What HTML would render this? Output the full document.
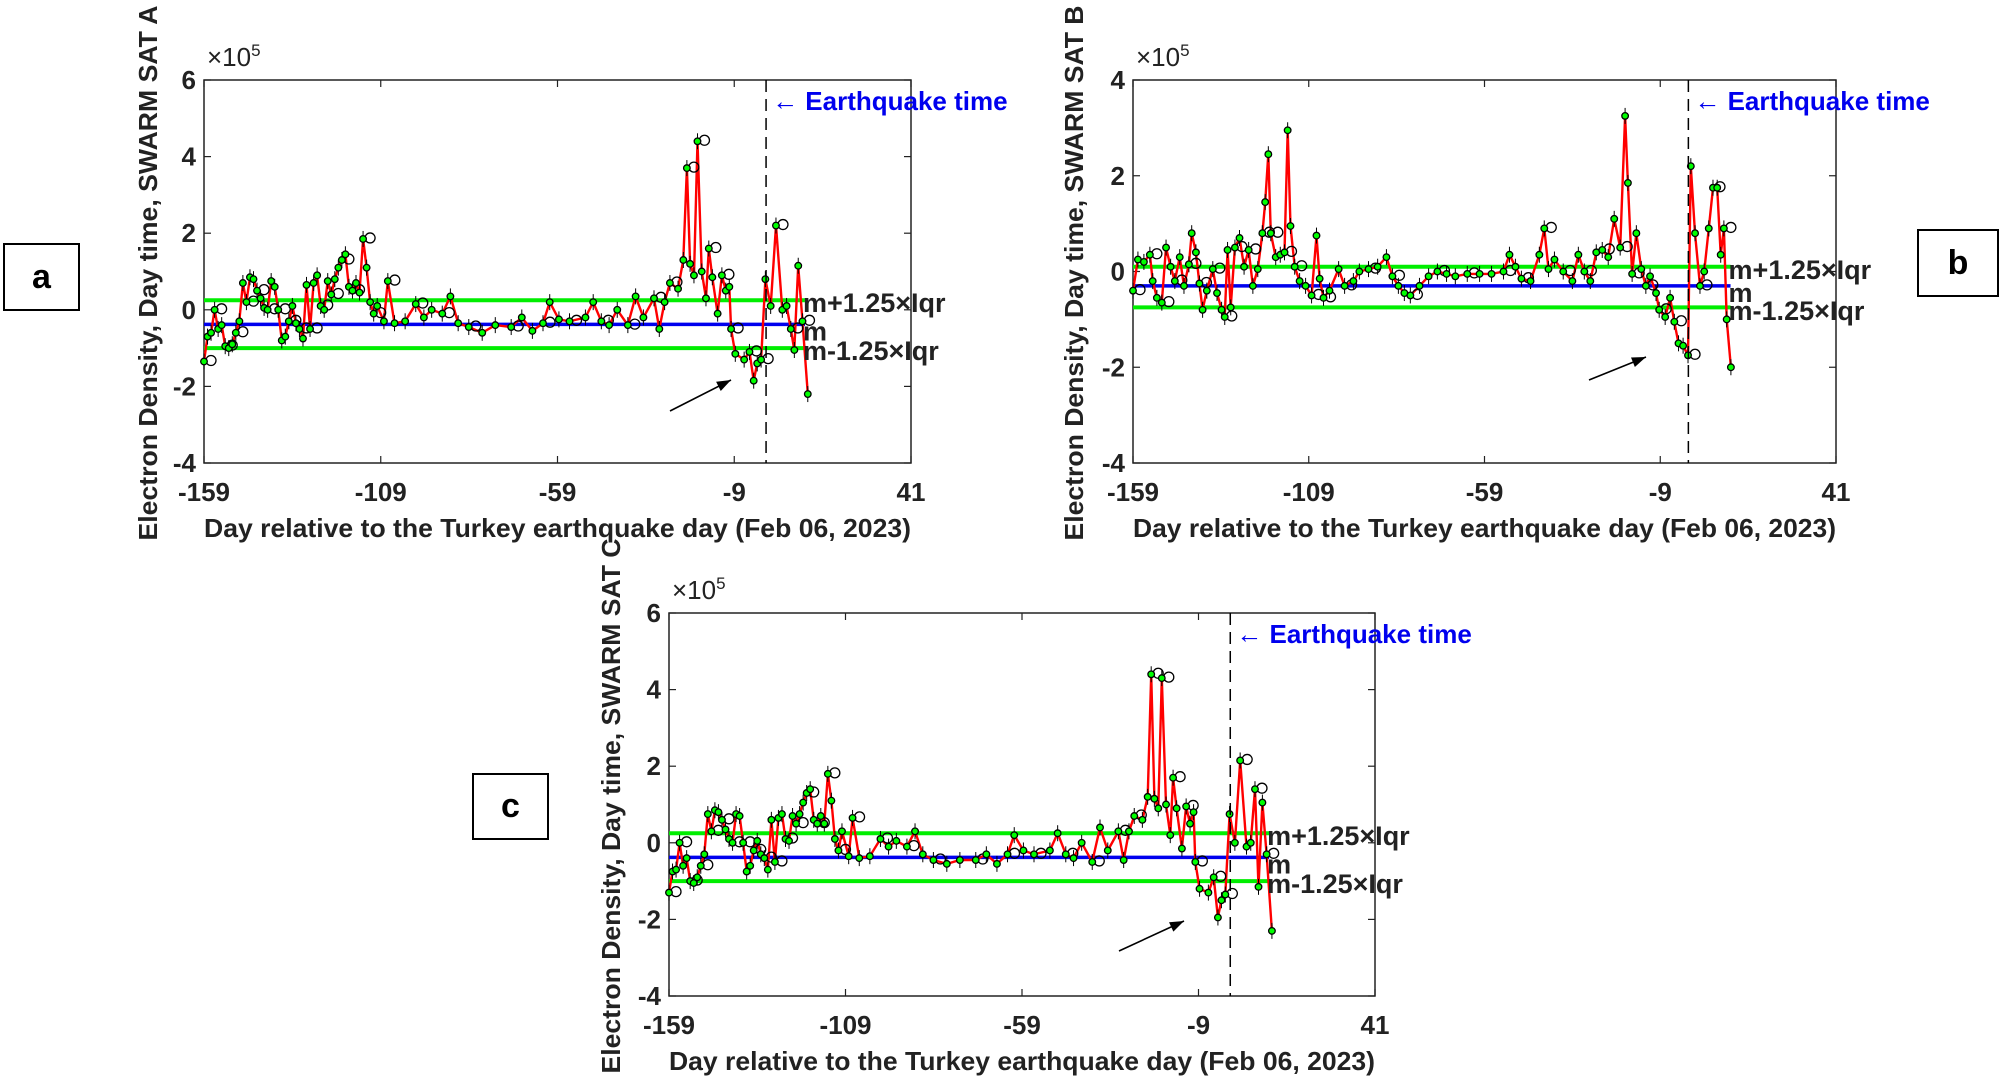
<!DOCTYPE html>
<html><head><meta charset="utf-8">
<style>
html,body{margin:0;padding:0;background:#fff;}
svg{display:block;font-family:"Liberation Sans",Arial,sans-serif;}
.box{position:absolute;border:2px solid #000;background:#fff;font:bold 34px "Liberation Sans",sans-serif;display:flex;align-items:center;justify-content:center;box-sizing:border-box;}
</style></head>
<body>
<div style="position:relative;width:2001px;height:1081px;overflow:hidden;">
<svg id="fig" width="2001" height="1081" viewBox="0 0 2001 1081"></svg>
<div class="box" style="left:3px;top:243px;width:77px;height:68px;">a</div>
<div class="box" style="left:1917px;top:229px;width:82px;height:68px;">b</div>
<div class="box" style="left:472px;top:773px;width:77px;height:67px;">c</div>
</div>
<script>
// ---- data (values ×1e5) ----
const aDays=[-159,-158,-157,-156,-155,-154,-153,-152,-151,-150,-149,-148,-147,-146,-145,-144,-143,-142,-141,-140,-139,-138,-137,-136,-135,-134,-133,-132,-131,-130,-129,-128,-127,-126,-125,-124,-123,-122,-121,-120,-119,-118,-117,-116,-115,-114,-113,-112,-111,-110,
-108.1,-107,-105.1,-102.1,-99.1,-96.8,-94.6,-91.6,-89.3,-87.1,-84.1,-80.3,-76.6,-72.1,-69.1,-66.1,-63.1,-61.2,-58.6,-55.6,-51.1,-48.9,-46.6,-44.4,-42.1,-39.1,-36.9,-34.7,-31.7,-30.2,-28.7,-27.2,-24.9,-23.4,-22.4,-21.5,-20.4,-19.4,-18.2,-17,-16.2,-15.2,-13.7,-12.5,-11.4,-10.4,-9.9,-8.7,-6.2,-4.7,-3.5,-2.5,-1.4,-0.2,1.3,2.8,4.6,5.8,7,8,9.1,10.3,11.8];
const aVals=[-1.35,-0.7,-0.6,0.0,-0.5,-0.4,-0.95,-1.0,-0.9,-0.6,-0.3,0.7,0.2,0.85,0.8,0.5,0.3,0.05,0.0,0.75,0.6,0.0,-0.8,-0.7,-0.3,0.1,-0.35,-0.5,-0.75,0.65,-0.5,0.7,0.9,0.1,0.0,0.75,0.4,0.8,1.1,1.3,1.45,0.6,0.5,0.7,0.45,1.85,1.1,0.2,-0.1,0.1,
-0.3,0.75,-0.35,-0.3,0.15,-0.2,0.0,-0.1,0.35,-0.35,-0.45,-0.6,-0.4,-0.45,-0.2,-0.55,-0.35,0.2,-0.25,-0.3,-0.2,0.2,-0.3,-0.4,0.0,-0.4,0.35,-0.2,0.3,-0.5,0.2,0.7,0.55,1.3,3.7,1.2,0.9,4.4,1.0,0.3,1.6,0.85,-0.1,0.9,0.5,0.6,-0.5,-1.15,-1.3,-1.1,-1.85,-1.4,-1.3,0.8,0.1,2.2,0.0,0.1,-0.5,-1.05,1.15,-0.3,-2.2];
const aLines=[0.25,-0.38,-1.0];

const bDays=[-159,-157.6,-155.9,-154.2,-153.4,-152.2,-150.8,-149.6,-148.3,-147.1,-145.7,-144.5,-143.1,-142.3,-141.1,-140.1,-139.2,-138,-136.3,-135.1,-133.8,-132.9,-132.1,-131.2,-130,-128.7,-127.4,-126.1,-124.9,-123.5,-122.2,-121.4,-120.5,-119.8,-118.4,-117.1,-115.9,-115,-114.2,-113,-111.6,-109.9,-108.2,-106.8,-105.9,-104.8,-103.1,-100.5,-98.8,-96.3,-94.6,-92,-89.4,-86.9,-85.2,-83.5,-81.8,-80.1,-77.5,-74.9,-72.4,-69.8,-67.3,-63.9,-60.4,-57,-53.6,-51.9,-50.2,-48.5,-45.9,-43.4,-42,-40.8,-39.1,-36.6,-34,-32.3,-30.6,-28.9,-27.2,-25.5,-23.8,-22.1,-20.4,-19,-18.2,-17,-15.8,-14.4,-13.1,-11.9,-10.2,-9.3,-7.6,-6.2,-5,-3.8,-2.5,-1.1,-0.3,0.9,2.3,3.5,4.8,6,7.2,8.2,9.1,9.9,11.1];
const bVals=[-0.4,0.25,0.2,0.35,-0.2,-0.55,-0.65,0.5,0.1,-0.2,0.3,-0.3,0.15,0.8,0.4,-0.25,-0.8,-0.4,0.05,-0.45,-0.8,-0.95,0.45,-0.75,0.5,0.7,0.1,0.45,-0.3,0.05,0.8,1.45,2.45,0.8,0.3,0.35,0.4,2.95,0.95,0.1,-0.2,-0.3,-0.5,0.75,-0.15,-0.55,-0.4,0.05,-0.3,-0.2,0.0,0.05,0.1,0.3,-0.1,-0.3,-0.45,-0.5,-0.3,-0.1,0.0,-0.05,-0.1,-0.05,-0.05,-0.05,0.0,0.35,0.1,-0.15,-0.2,0.35,0.9,0.05,0.25,0.0,-0.2,0.35,0.0,-0.2,0.4,0.45,0.3,1.1,0.5,3.25,1.85,-0.05,0.8,0.05,-0.3,-0.1,-0.45,-0.8,-0.95,-0.55,-1.05,-1.5,-1.55,-1.75,2.2,0.8,-0.3,0.0,0.9,1.75,1.75,0.35,0.9,-1.0,-2.0];
const bLines=[0.1,-0.3,-0.75];

const cDays=[-159,-158,-157,-156,-155,-154,-153,-152,-151,-150,-149,-148,-147,-146,-145,-144,-143,-142,-141,-140,-139,-138,-137,-136,-135,-134,-133,-132,-131,-130,-129,-128,-127,-126,-125,-124,-123,-122,-121,-120,-119,-118,-117,-116,-115,-114,-113,-112,-111,-110,
-108.1,-107,-105.1,-102.1,-99.1,-96.8,-94.6,-91.6,-89.3,-87.1,-84.1,-80.3,-76.6,-72.1,-69.1,-66.1,-63.1,-61.2,-58.6,-55.6,-51.1,-48.9,-46.6,-44.4,-42.1,-39.1,-36.9,-34.7,-31.7,-30.2,-28.7,-27.2,-24.9,-23.4,-22.4,-21.5,-20.4,-19.4,-18.2,-17,-16.2,-15.2,-13.7,-12.5,-11.4,-10.4,-9.9,-8.7,-6.2,-4.7,-3.5,-2.5,-1.4,-0.2,1.3,2.8,4.6,5.8,7,8,9.1,10.3,11.8];
const cVals=[-1.3,-0.75,-0.7,0.0,-0.6,-0.4,-1.0,-1.05,-0.9,-0.6,-0.3,0.75,0.3,0.85,0.8,0.6,0.35,0.1,0.0,0.75,0.7,0.0,-0.75,-0.6,-0.2,0.05,-0.3,-0.4,-0.7,0.6,-0.5,0.65,0.75,0.1,0.05,0.7,0.5,0.75,1.05,1.3,1.4,0.6,0.5,0.7,0.5,1.8,1.1,0.1,-0.2,0.3,
-0.35,0.65,-0.4,-0.35,0.1,-0.1,0.05,-0.1,0.3,-0.3,-0.45,-0.55,-0.45,-0.45,-0.3,-0.55,-0.3,0.2,-0.2,-0.3,-0.2,0.25,-0.3,-0.4,0.0,-0.5,0.4,-0.2,0.3,-0.45,0.3,0.7,0.6,1.2,4.4,1.15,0.9,4.3,1.0,0.2,1.7,0.9,-0.15,0.95,0.5,0.8,-0.5,-1.2,-1.3,-0.9,-1.95,-1.5,-1.35,0.75,0.0,2.15,-0.1,0.0,1.4,-1.15,1.05,-0.3,-2.3];
const cLines=[0.25,-0.38,-1.0];

const aYTicks=[-4,-2,0,2,4,6];
const bYTicks=[-4,-2,0,2,4];
const xTicks=[-159,-109,-59,-9,41];
const eqDayA=0, eqDayB=-1, eqDayC=0;

const NS='http://www.w3.org/2000/svg';
const svg=document.getElementById('fig');
function mk(tag,attrs,parent,txt){const e=document.createElementNS(NS,tag);for(const k in attrs)e.setAttribute(k,attrs[k]);if(txt!==undefined)e.textContent=txt;(parent||svg).appendChild(e);return e;}

function panel(id,P){
  const g=mk('g',{});
  
  
  const W=P.R-P.L,H=P.B-P.T;
  const ymin=P.yt[0],ymax=P.yt[P.yt.length-1];
  const x=d=>P.L+(d+159)/200*W;
  const y=v=>P.B-(v-ymin)/(ymax-ymin)*H;
  const ax=mk('rect',{x:P.L,y:P.T,width:W,height:H,fill:'#fff',stroke:'#222','stroke-width':1.5},g);
  
  
  P.yt.forEach(t=>{
    const yy=y(t);
    mk('line',{x1:P.L,x2:P.L+7,y1:yy,y2:yy,stroke:'#222','stroke-width':1.2},g);
    mk('line',{x1:P.R,x2:P.R-7,y1:yy,y2:yy,stroke:'#222','stroke-width':1.2},g);
    const tl=mk('text',{x:P.L-8,y:yy+9,'text-anchor':'end','font-size':26,'font-weight':'bold',fill:'#222'},g,String(t));
    
    
  });
  xTicks.forEach(t=>{
    const xx=x(t);
    mk('line',{x1:xx,x2:xx,y1:P.B,y2:P.B-7,stroke:'#222','stroke-width':1.2},g);
    mk('line',{x1:xx,x2:xx,y1:P.T,y2:P.T+7,stroke:'#222','stroke-width':1.2},g);
    const tl=mk('text',{x:xx,y:P.B+38,'text-anchor':'middle','font-size':26,'font-weight':'bold',fill:'#222'},g,String(t));
    
    
  });
  const ex=mk('text',{x:P.L+3,y:P.T-14,'font-size':26,fill:'#222'},g,'×10');
  
  
  mk('tspan',{dy:-10,'font-size':17},ex,'5');
  const xe=x(P.lineEnd);
  const l1=mk('line',{x1:P.L,x2:xe,y1:y(P.lines[0]),y2:y(P.lines[0]),stroke:'#00ee00','stroke-width':4},g);
  
  
  const l3=mk('line',{x1:P.L,x2:xe,y1:y(P.lines[2]),y2:y(P.lines[2]),stroke:'#00ee00','stroke-width':4},g);
  
  
  const l2=mk('line',{x1:P.L,x2:xe,y1:y(P.lines[1]),y2:y(P.lines[1]),stroke:'#0000ee','stroke-width':3.5},g);
  
  
  const pts=P.days.map((d,i)=>x(d).toFixed(1)+','+y(P.vals[i]).toFixed(1)).join(' ');
  const pl=mk('polyline',{points:pts,fill:'none',stroke:'#ff0000','stroke-width':2.4},g);
  
  
  P.days.forEach((d,i)=>{
    const cx=x(d),cy=y(P.vals[i]);
    mk('line',{x1:cx,x2:cx,y1:cy-8,y2:cy+8,stroke:'#000','stroke-width':1},g);
    if(i%3===0){const o=mk('circle',{cx:cx+7,cy:cy-1,r:5,fill:'none',stroke:'#000','stroke-width':1.3},g);
      
      }
    const m=mk('circle',{cx:cx,cy:cy,r:3.3,fill:'#00ff00',stroke:'#000','stroke-width':1.3},g);
    
    
  });
  const xq=x(P.eq);
  const dl=mk('line',{x1:xq,x2:xq,y1:P.T,y2:P.B,stroke:'#000','stroke-width':1.5,'stroke-dasharray':'12,7'},g);
  
  
  const et=mk('text',{x:xq+6,y:P.T+30,'font-size':26,'font-weight':'bold',fill:'#0000ee'},g,'← Earthquake time');
  
  
  const tx=xe-2;
  [['m+1.25×Iqr',P.lines[0]-0.05,'upper-threshold-label'],['m',P.lines[1]-0.05,'median-label'],['m-1.25×Iqr',P.lines[2]-0.05,'lower-threshold-label']].forEach((a,k)=>{
    const yy=k===1? y(P.lines[1])+16 : y(a[1])+10;
    const t=mk('text',{x:tx,y:yy,'font-size':27,'font-weight':'bold',fill:'#222'},g,a[0]);
    
    
  });
  const ar=mk('line',{x1:P.arrow[0],y1:P.arrow[1],x2:P.arrow[2],y2:P.arrow[3],stroke:'#000','stroke-width':1.6},g);
  
  
  const ang=Math.atan2(P.arrow[3]-P.arrow[1],P.arrow[2]-P.arrow[0]);
  const hx=P.arrow[2],hy=P.arrow[3],len=15;
  mk('polygon',{points:[hx,hy,hx-len*Math.cos(ang-0.35),hy-len*Math.sin(ang-0.35),hx-len*Math.cos(ang+0.35),hy-len*Math.sin(ang+0.35)].join(','),fill:'#000'},g);
  const xl=mk('text',{x:(P.L+P.R)/2,y:P.B+74,'text-anchor':'middle','font-size':26,'font-weight':'bold',fill:'#222',textLength:P.R-P.L,lengthAdjust:'spacingAndGlyphs'},g,'Day relative to the Turkey earthquake day (Feb 06, 2023)');
  
  
  const yl=mk('text',{x:0,y:0,'text-anchor':'middle','font-size':26,'font-weight':'bold',fill:'#222',textLength:535,lengthAdjust:'spacingAndGlyphs',transform:`translate(${P.yl[0]},${P.yl[1]}) rotate(-90)`},g,'Electron Density, Day time, SWARM SAT '+P.sat);
  
  
}

panel('a',{L:204,R:911,T:80,B:463,yt:aYTicks,days:aDays,vals:aVals,lines:aLines,lineEnd:11,eq:eqDayA,arrow:[670,411,731,380],yl:[157,273],sat:'A'});
panel('b',{L:1133,R:1836,T:80,B:463,yt:bYTicks,days:bDays,vals:bVals,lines:bLines,lineEnd:11,eq:eqDayB,arrow:[1589,380,1646,357],yl:[1083,273],sat:'B'});
panel('c',{L:669,R:1375,T:613,B:996,yt:aYTicks,days:cDays,vals:cVals,lines:cLines,lineEnd:11,eq:eqDayC,arrow:[1119,951,1184,921],yl:[620,806],sat:'C'});
</script>
</body></html>
